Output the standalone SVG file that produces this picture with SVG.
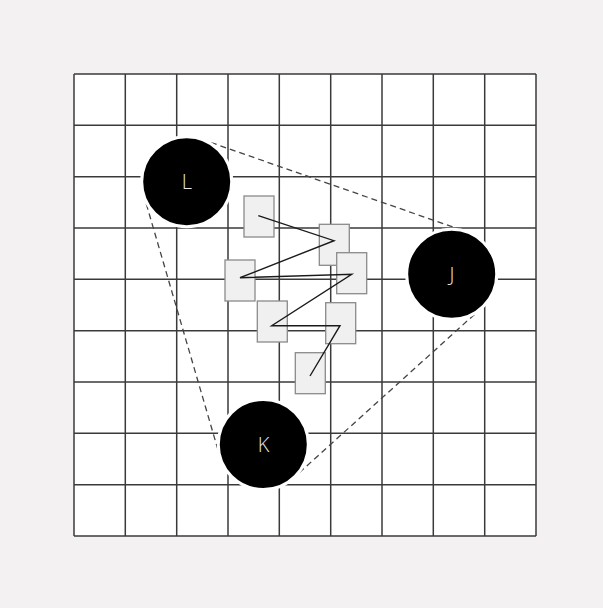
<svg xmlns="http://www.w3.org/2000/svg" width="603" height="608" viewBox="0 0 603 608">
<style>
.grid line{stroke:#3a3a3a;stroke-width:1.5}
.hull{stroke:#444;stroke-width:1.3;stroke-dasharray:6 4;fill:none}
.node circle{fill:#000;stroke:#fff;stroke-width:3}
.node text{font-family:"Open Sans","Noto Sans","DejaVu Sans",sans-serif;font-weight:300;font-size:20px;fill:#e6e6e6;text-anchor:middle;dominant-baseline:central}
.box rect{fill:#f0f0f0;stroke:#8a8a8a;stroke-width:1.3}
.link{fill:none;stroke:#1a1a1a;stroke-width:1.4}
</style>
<rect width="603" height="608" fill="#f3f1f2"/>
<rect x="74" y="74" width="462" height="462" fill="#fff"/>
<g class="grid">
<line x1="74" y1="74" x2="74" y2="536"/>
<line x1="125.3" y1="74" x2="125.3" y2="536"/>
<line x1="176.7" y1="74" x2="176.7" y2="536"/>
<line x1="228" y1="74" x2="228" y2="536"/>
<line x1="279.3" y1="74" x2="279.3" y2="536"/>
<line x1="330.7" y1="74" x2="330.7" y2="536"/>
<line x1="382" y1="74" x2="382" y2="536"/>
<line x1="433.3" y1="74" x2="433.3" y2="536"/>
<line x1="484.7" y1="74" x2="484.7" y2="536"/>
<line x1="536" y1="74" x2="536" y2="536"/>
<line x1="74" y1="74" x2="536" y2="74"/>
<line x1="74" y1="125.3" x2="536" y2="125.3"/>
<line x1="74" y1="176.7" x2="536" y2="176.7"/>
<line x1="74" y1="228" x2="536" y2="228"/>
<line x1="74" y1="279.3" x2="536" y2="279.3"/>
<line x1="74" y1="330.7" x2="536" y2="330.7"/>
<line x1="74" y1="382" x2="536" y2="382"/>
<line x1="74" y1="433.3" x2="536" y2="433.3"/>
<line x1="74" y1="484.7" x2="536" y2="484.7"/>
<line x1="74" y1="536" x2="536" y2="536"/>
</g>
<g id="hull">
<line class="hull" x1="201.5" y1="139.2" x2="466.5" y2="231.8"/>
<line class="hull" x1="481.9" y1="307.7" x2="293.5" y2="477.9"/>
<line class="hull" x1="143.5" y1="194.3" x2="220.1" y2="457.1"/>
</g>
<g id="L" class="node"><circle cx="186.7" cy="181.7" r="45"/><text x="187" y="181.5">L</text></g>
<g id="J" class="node"><circle cx="451.7" cy="274.3" r="45"/><text x="452" y="274.5">J</text></g>
<g id="K" class="node"><circle cx="263.3" cy="444.5" r="45"/><text x="263.5" y="444.5">K</text></g>
<g id="b1" class="box"><rect x="244" y="196" width="30" height="41"/></g>
<g id="b2" class="box"><rect x="319.3" y="224.3" width="30" height="41"/></g>
<g id="b3" class="box"><rect x="336.7" y="252.7" width="30" height="41"/></g>
<g id="b4" class="box"><rect x="225" y="260" width="30" height="41"/></g>
<g id="b5" class="box"><rect x="257.3" y="301" width="30" height="41"/></g>
<g id="b6" class="box"><rect x="325.7" y="302.7" width="30" height="41"/></g>
<g id="b7" class="box"><rect x="295.3" y="352.7" width="30" height="41"/></g>
<g id="connectors">
<polyline class="link" points="258.3,215.7 334,240.7 240,277.7 351.7,274.3 271.7,325.7 340,325.7 310,376"/>
</g>
</svg>
